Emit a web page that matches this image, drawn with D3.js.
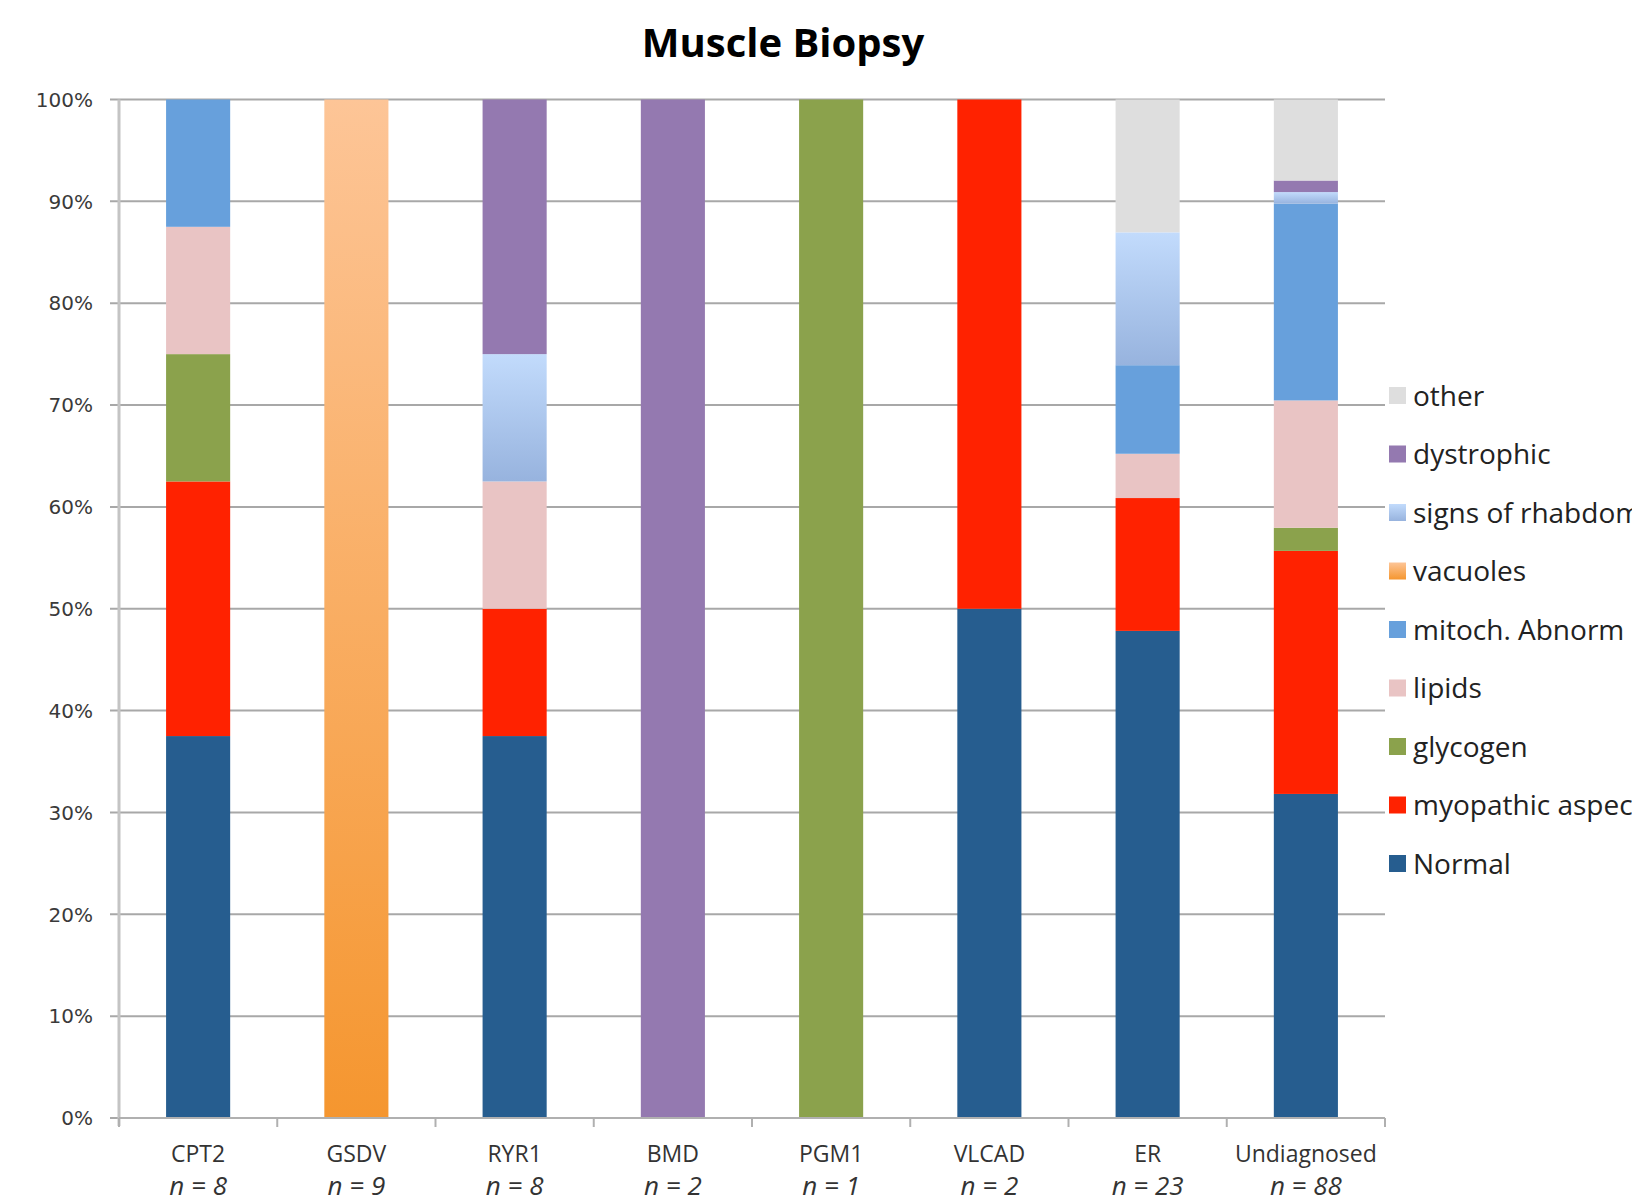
<!DOCTYPE html>
<html><head><meta charset="utf-8">
<script src="https://cdn.jsdelivr.net/npm/d3@7"></script>
<style>html,body{margin:0;padding:0;background:#fff;overflow:hidden}</style>
</head><body>
<script>
const categories = ["CPT2","GSDV","RYR1","BMD","PGM1","VLCAD","ER","Undiagnosed"];
const sampleSizes = [8,9,8,2,1,2,23,88];
const seriesNames = ["Normal","myopathic aspect","glycogen","lipids","mitoch. Abnorm","vacuoles","signs of rhabdomyolysis","dystrophic","other"];
// counts per category (stacked to 100%)
const normal     = [3,0,3,0,0,1,11,28];
const myopathic  = [2,0,1,0,0,1,3,21];
const glycogen   = [1,0,0,0,1,0,0,2];
const lipids     = [1,0,1,0,0,0,1,11];
const mitoch     = [1,0,0,0,0,0,2,17];
const vacuoles   = [0,9,0,0,0,0,0,0];
const rhabdo     = [0,0,1,0,0,0,3,1];
const dystrophic = [0,0,2,2,0,0,0,1];
const other      = [0,0,0,0,0,0,3,7];
const yTicks = [0,0.1,0.2,0.3,0.4,0.5,0.6,0.7,0.8,0.9,1];

const seriesValues = [normal,myopathic,glycogen,lipids,mitoch,vacuoles,rhabdo,dystrophic,other];
const colors = ["#265d8f","#ff2200","#8ba24c","#e9c4c4","#67a0dc","url(#gVac)","url(#gRh)","#9479b0","#dedede"];

const rows = categories.map((c,i)=>{const o={cat:c}; seriesNames.forEach((s,j)=>o[s]=seriesValues[j][i]); return o;});
const stack = d3.stack().keys(seriesNames).offset(d3.stackOffsetExpand);
const layers = stack(rows);

const W=1632,H=1204;
const svg=d3.select("body").append("svg").attr("width",W).attr("height",H).style("display","block");
const defs=svg.append("defs");
function grad(id,c1,c2){const g=defs.append("linearGradient").attr("id",id).attr("x1",0).attr("y1",0).attr("x2",0).attr("y2",1);
 g.append("stop").attr("offset","0%").attr("stop-color",c1);g.append("stop").attr("offset","100%").attr("stop-color",c2);}
grad("gVac","#fdc597","#f5962f");
grad("gRh","#c2dbfc","#97b3de");

const pLeft=119,pRight=1385,pTop=99.5,pBottom=1118;
const x=d3.scaleBand().domain(categories).range([pLeft,pRight]).padding(0);
const y=d3.scaleLinear().domain([0,1]).range([pBottom,pTop]);
const bw=x.bandwidth()*0.405;

// gridlines
svg.append("g").selectAll("line").data(yTicks).join("line")
 .attr("x1",pLeft-9).attr("x2",pRight).attr("y1",d=>y(d)).attr("y2",d=>y(d))
 .attr("stroke","#a8a8a8").attr("stroke-width",2);
// y axis line
svg.append("line").attr("x1",pLeft).attr("x2",pLeft).attr("y1",pTop).attr("y2",pBottom+8).attr("stroke","#c4c4c4").attr("stroke-width",3);
// y labels
svg.append("g").selectAll("text").data(yTicks).join("text")
 .attr("x",93).attr("y",d=>y(d)).attr("dy","0.36em").attr("text-anchor","end")
 .attr("font-family","DejaVu Sans").attr("font-size",20).attr("fill","#3a3a3a").text(d3.format(".0%"));

// bars
svg.append("g").selectAll("g").data(layers).join("g").attr("fill",(d,i)=>colors[i])
 .selectAll("rect").data(d=>d.filter(p=>p[1]-p[0]>0)).join("rect")
 .attr("x",d=>x(d.data.cat)+x.bandwidth()/2-bw/2).attr("width",bw)
 .attr("y",d=>y(d[1])).attr("height",d=>y(d[0])-y(d[1]));

// x axis
svg.append("line").attr("x1",pLeft).attr("x2",pRight).attr("y1",pBottom).attr("y2",pBottom).attr("stroke","#b0b0b0").attr("stroke-width",2);
const bounds=categories.map(c=>x(c)).concat([pRight]);
svg.append("g").selectAll("line").data(bounds).join("line")
 .attr("x1",d=>d).attr("x2",d=>d).attr("y1",pBottom).attr("y2",pBottom+9).attr("stroke","#b0b0b0").attr("stroke-width",2);
const xl=svg.append("g");
xl.selectAll("text.c").data(categories).join("text").attr("class","c")
 .attr("x",d=>x(d)+x.bandwidth()/2).attr("y",1162).attr("text-anchor","middle")
 .attr("font-family","Open Sans").attr("font-size",23).attr("fill","#333").text(d=>d);
xl.selectAll("text.n").data(categories).join("text").attr("class","n")
 .attr("x",d=>x(d)+x.bandwidth()/2).attr("y",1195).attr("text-anchor","middle")
 .attr("font-family","Open Sans").attr("font-style","italic").attr("font-size",26).attr("fill","#333")
 .text((d,i)=>"n = "+sampleSizes[i]);

// title
svg.append("text").attr("x",783).attr("y",57).attr("text-anchor","middle")
 .attr("font-family","Open Sans").attr("font-weight","bold").attr("font-size",40).attr("fill","#000").text("Muscle Biopsy");

// legend
const legItems=seriesNames.map((s,i)=>({s,c:colors[i]})).reverse();
const lg=svg.append("g").selectAll("g").data(legItems).join("g")
 .attr("transform",(d,i)=>`translate(1389,${395.5+i*58.5})`);
lg.append("rect").attr("x",0).attr("y",-8.5).attr("width",17).attr("height",17).attr("fill",d=>d.c);
lg.append("text").attr("x",24).attr("y",0).attr("dy","0.36em").attr("font-family","Open Sans").attr("font-size",28).attr("fill","#222").text(d=>d.s);
</script>
</body></html>
